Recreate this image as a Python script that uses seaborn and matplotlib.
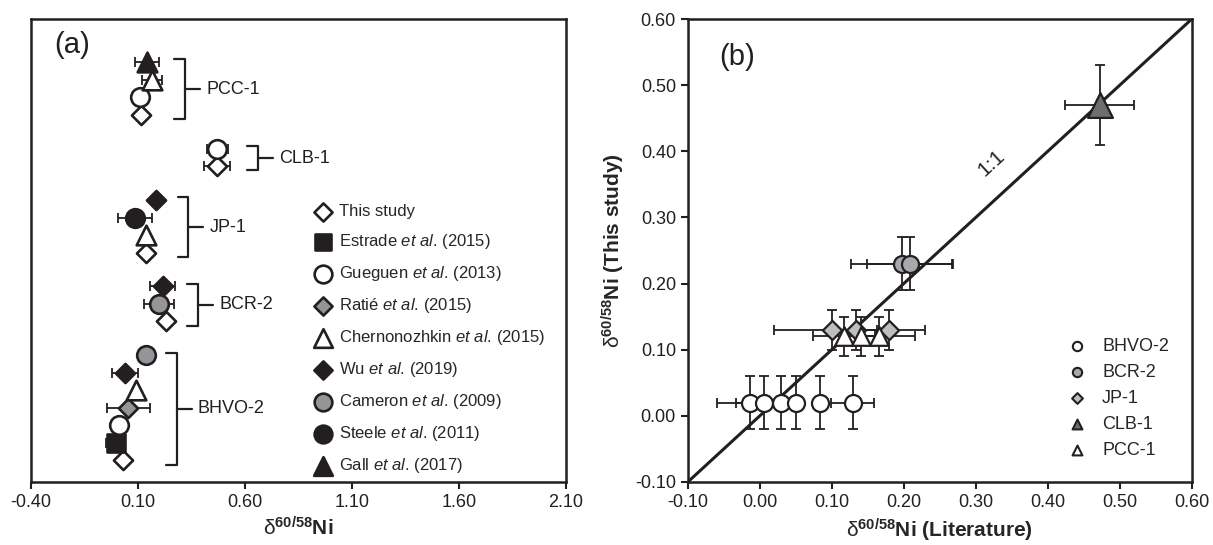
import matplotlib
matplotlib.use("Agg")
import matplotlib.pyplot as plt
import seaborn as sns
import numpy as np
import pandas as pd

# ---------------- panel (a) data: one list per reference material, top to bottom
groups = ["PCC-1", "CLB-1", "JP-1", "BCR-2", "BHVO-2"]
group_studies = [
    ["Gall", "Chernonozhkin", "Gueguen", "This study"],
    ["Gueguen", "This study"],
    ["Wu", "Steele", "Chernonozhkin", "This study"],
    ["Wu", "Cameron", "This study"],
    ["Cameron", "Wu", "Chernonozhkin", "Ratie", "Gueguen", "Estrade", "This study"],
]
group_values = [
    [0.14, 0.165, 0.11, 0.115],
    [0.47, 0.47],
    [0.185, 0.085, 0.135, 0.135],
    [0.215, 0.20, 0.23],
    [0.135, 0.04, 0.09, 0.055, 0.01, -0.005, 0.03],
]
group_errors = [
    [0.056, 0.045, 0.0, 0.0],
    [0.05, 0.06],
    [0.0, 0.08, 0.0, 0.0],
    [0.06, 0.07, 0.0],
    [0.0, 0.06, 0.0, 0.10, 0.0, 0.045, 0.0],
]
bracket_x = [0.32, 0.66, 0.335, 0.38, 0.28]

legend_keys = ["This study", "Estrade", "Gueguen", "Ratie", "Chernonozhkin",
               "Wu", "Cameron", "Steele", "Gall"]
legend_labels = [
    "This study",
    r"Estrade $\mathit{et\ al}$. (2015)",
    r"Gueguen $\mathit{et\ al}$. (2013)",
    r"Ratié $\mathit{et\ al}$. (2015)",
    r"Chernonozhkin $\mathit{et\ al}$. (2015)",
    r"Wu $\mathit{et\ al}$. (2019)",
    r"Cameron $\mathit{et\ al}$. (2009)",
    r"Steele $\mathit{et\ al}$. (2011)",
    r"Gall $\mathit{et\ al}$. (2017)",
]

# ---------------- panel (b) data: literature vs this study
b_samples = ["BHVO-2", "BCR-2", "JP-1", "CLB-1", "PCC-1"]
b_lit = [
    [-0.013, 0.006, 0.029, 0.05, 0.083, 0.129],
    [0.197, 0.209],
    [0.10, 0.133, 0.18],
    [0.472],
    [0.117, 0.14, 0.165],
]
b_lit_err = [
    [0.047, 0.039, 0.0, 0.0, 0.0, 0.03],
    [0.07, 0.06],
    [0.08, 0.03, 0.05],
    [0.048],
    [0.043, 0.0, 0.05],
]
b_this = [0.02, 0.23, 0.13, 0.47, 0.12]
b_this_err = [0.04, 0.04, 0.03, 0.06, 0.03]

BLACK = "#231f20"
study_style = {
    "This study": dict(marker="D", fc="white", s=95),
    "Estrade": dict(marker="s", fc=BLACK, s=150),
    "Gueguen": dict(marker="o", fc="white", s=180),
    "Ratie": dict(marker="D", fc="#939598", s=95),
    "Chernonozhkin": dict(marker="^", fc="white", s=200),
    "Wu": dict(marker="D", fc=BLACK, s=95),
    "Cameron": dict(marker="o", fc="#939598", s=180),
    "Steele": dict(marker="o", fc=BLACK, s=180),
    "Gall": dict(marker="^", fc=BLACK, s=200),
}
sample_style = {
    "BHVO-2": dict(marker="o", fc="white", s=150, ls=45),
    "BCR-2": dict(marker="o", fc="#a7a9ac", s=150, ls=45),
    "JP-1": dict(marker="D", fc="#bcbec0", s=95, ls=30),
    "CLB-1": dict(marker="^", fc="#6d6e71", s=320, ls=50),
    "PCC-1": dict(marker="^", fc="white", s=180, ls=50),
}

sns.set_style("ticks")
plt.rcParams["font.family"] = ["Liberation Sans", "DejaVu Sans"]
plt.rcParams["mathtext.fontset"] = "custom"
plt.rcParams["mathtext.rm"] = "Liberation Sans"
plt.rcParams["mathtext.it"] = "Liberation Sans:italic"
plt.rcParams["mathtext.bf"] = "Liberation Sans:bold"
plt.rcParams["axes.unicode_minus"] = False

fig = plt.figure(figsize=(12.13, 5.45), dpi=100)
ax_a = fig.add_axes([0.0256, 0.1156, 0.441, 0.8495])
ax_b = fig.add_axes([0.567, 0.1156, 0.4155, 0.8495])

# ---------------- panel (a)
step, gap = 1.0, 1.94
rows = []
pos = 0.0
group_pos = []
for gi, (g, studies, vals, errs) in enumerate(zip(groups, group_studies, group_values, group_errors)):
    if gi > 0:
        pos += gap - step
    ps = []
    for st, v, e in zip(studies, vals, errs):
        rows.append(dict(group=g, study=st, value=v, err=e, pos=pos))
        ps.append(pos)
        pos += step
    group_pos.append(ps)
df_a = pd.DataFrame(rows)
last_pos = pos - step

for _, r in df_a[df_a.err > 0].iterrows():
    ax_a.errorbar(r.value, r.pos, xerr=r.err, fmt="none", ecolor=BLACK,
                  elinewidth=1.3, capsize=3.5, capthick=1.3, zorder=2)

for key, lab in zip(legend_keys, legend_labels):
    st = study_style[key]
    sub = df_a[df_a.study == key]
    sns.scatterplot(data=sub, x="value", y="pos", ax=ax_a, marker=st["marker"],
                    s=st["s"], color=st["fc"], edgecolor=BLACK, linewidth=1.9,
                    label=lab, zorder=3)

for g, ps, bx in zip(groups, group_pos, bracket_x):
    y0, y1 = ps[0] - 0.15, ps[-1] + 0.25
    ym = (y0 + y1) / 2
    ax_a.plot([bx - 0.05, bx, bx, bx - 0.05], [y0, y0, y1, y1], color=BLACK, lw=1.6)
    ax_a.plot([bx, bx + 0.07], [ym, ym], color=BLACK, lw=1.6)
    ax_a.text(bx + 0.1, ym, g, fontsize=13, va="center", ha="left", color=BLACK)

ax_a.set_xlim(-0.40, 2.10)
ax_a.set_ylim(last_pos + 1.23, -2.46)
ax_a.set_xticks(np.arange(-0.40, 2.11, 0.5))
ax_a.xaxis.set_major_formatter(matplotlib.ticker.FormatStrFormatter("%.2f"))
ax_a.set_yticks([])
ax_a.set_ylabel("")
ax_a.set_xlabel(r"$\mathrm{\delta}^{\mathbf{60/58}}\mathbf{Ni}$", fontsize=15, labelpad=4)
ax_a.tick_params(axis="x", labelsize=13, length=5, width=1.5, color=BLACK, labelcolor=BLACK)
ax_a.text(0.077, 0.944, "(a)", transform=ax_a.transAxes, fontsize=21,
          ha="center", va="center", color=BLACK)
ax_a.legend(loc="upper left", bbox_to_anchor=(0.531, 0.60), frameon=False,
            fontsize=12, handlelength=1.0, handletextpad=0.45, labelspacing=0.78,
            borderpad=0, borderaxespad=0, markerscale=0.95)

# ---------------- panel (b)
ax_b.axline((0, 0), slope=1, color=BLACK, lw=2.2, zorder=1)
for smp, xs, xe, yv, ye in zip(b_samples, b_lit, b_lit_err, b_this, b_this_err):
    st = sample_style[smp]
    for x, e in zip(xs, xe):
        ax_b.errorbar(x, yv, xerr=e if e > 0 else None, yerr=ye, fmt="none",
                      ecolor=BLACK, elinewidth=1.3, capsize=3.5, capthick=1.3, zorder=2)
    sub = pd.DataFrame({"lit": xs, "this": [yv] * len(xs)})
    sns.scatterplot(data=sub, x="lit", y="this", ax=ax_b, marker=st["marker"],
                    s=st["s"], color=st["fc"], edgecolor=BLACK, linewidth=1.6,
                    zorder=3)
    ax_b.scatter([], [], marker=st["marker"], s=st["ls"], color=st["fc"],
                 edgecolor=BLACK, linewidth=1.5, label=smp)

ax_b.set_xlim(-0.10, 0.60)
ax_b.set_ylim(-0.10, 0.60)
ticks_b = np.arange(-0.10, 0.61, 0.10)
ax_b.set_xticks(ticks_b)
ax_b.set_yticks(ticks_b)
ax_b.xaxis.set_major_formatter(matplotlib.ticker.FormatStrFormatter("%.2f"))
ax_b.yaxis.set_major_formatter(matplotlib.ticker.FormatStrFormatter("%.2f"))
ax_b.tick_params(labelsize=13, length=5, width=1.5, color=BLACK, labelcolor=BLACK)
ax_b.set_xlabel(r"$\mathrm{\delta}^{\mathbf{60/58}}\mathbf{Ni\ (Literature)}$",
                fontsize=15, labelpad=4)
ax_b.set_ylabel(r"$\mathrm{\delta}^{\mathbf{60/58}}\mathbf{Ni\ (This\ study)}$",
                fontsize=15, labelpad=6)
ax_b.text(-0.032, 0.542, "(b)", fontsize=21, ha="center", va="center", color=BLACK)
ax_b.text(0.322, 0.382, "1:1", fontsize=15, rotation=42.6, ha="center",
          va="center", color=BLACK)
ax_b.legend(loc="upper left", bbox_to_anchor=(0.754, 0.312), frameon=False,
            fontsize=13, handlelength=1.0, handletextpad=0.9, labelspacing=0.5,
            borderpad=0, borderaxespad=0)

for ax in (ax_a, ax_b):
    for sp in ax.spines.values():
        sp.set_linewidth(1.8)
        sp.set_color(BLACK)
        sp.set_visible(True)

fig.savefig("out.png", dpi=100)
